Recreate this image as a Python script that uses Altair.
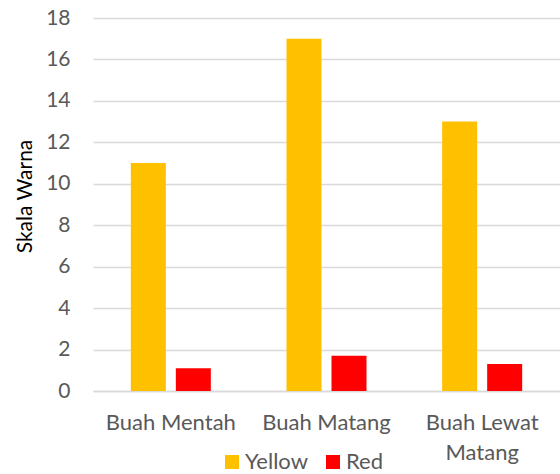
import altair as alt
import pandas as pd

categories = ["Buah Mentah", "Buah Matang", "Buah Lewat Matang"]
series = ["Yellow", "Red"]
yellow_values = [11, 17, 13]
red_values = [1.1, 1.7, 1.3]
y_ticks = [0, 2, 4, 6, 8, 10, 12, 14, 16, 18]
colors = ["#FFC000", "#FF0000"]

rows = []
for c, yv, rv in zip(categories, yellow_values, red_values):
    rows.append({"Kategori": c, "Warna": "Yellow", "Nilai": yv})
    rows.append({"Kategori": c, "Warna": "Red", "Nilai": rv})
df = pd.DataFrame(rows)

FONT = "Lato"
LABEL_COLOR = "#595959"
GRID = "#D9D9D9"

chart = alt.Chart(df).mark_bar().encode(
    x=alt.X(
        "Kategori:N",
        sort=categories,
        scale=alt.Scale(paddingInner=0.486, paddingOuter=0.243),
        axis=alt.Axis(
            title=None,
            labelAngle=0,
            labelExpr="datum.value == 'Buah Lewat Matang' ? ['Buah Lewat', 'Matang'] : datum.value",
            labelFontSize=22,
            labelFont=FONT,
            labelColor=LABEL_COLOR,
            labelPadding=21,
            labelLineHeight=30,
            labelBaseline="top",
            ticks=False,
            domain=True,
            domainColor=GRID,
            domainWidth=1.5,
            grid=False,
        ),
    ),
    xOffset=alt.XOffset(
        "Warna:N",
        sort=series,
        scale=alt.Scale(paddingInner=0.222, paddingOuter=0),
    ),
    y=alt.Y(
        "Nilai:Q",
        scale=alt.Scale(domain=[0, 18], nice=False),
        axis=alt.Axis(
            values=y_ticks,
            title="Skala Warna",
            titleFont=FONT,
            titleFontSize=21,
            titleFontWeight="normal",
            titleColor="#000000",
            titlePadding=10,
            titleY=178,
            labelFont=FONT,
            labelFontSize=21,
            labelColor=LABEL_COLOR,
            labelPadding=23,
            ticks=False,
            domain=False,
            grid=True,
            gridColor=GRID,
            gridWidth=1.5,
        ),
    ),
    color=alt.Color(
        "Warna:N",
        sort=series,
        scale=alt.Scale(domain=series, range=colors),
        legend=alt.Legend(
            title=None,
            orient="none",
            legendX=128,
            legendY=433,
            direction="horizontal",
            symbolType="square",
            symbolSize=196,
            symbolStrokeWidth=0,
            labelFont=FONT,
            labelFontSize=22,
            labelColor=LABEL_COLOR,
            labelOffset=2,
            columnPadding=14,
            padding=0,
        ),
    ),
).properties(
    width=467,
    height=373,
    padding={"left": 93, "top": 18, "right": 0, "bottom": 83},
    autosize=alt.AutoSizeParams(type="none"),
).configure_view(strokeWidth=0)

chart.save("out.html", embed_options={"renderer": "svg", "actions": False})
